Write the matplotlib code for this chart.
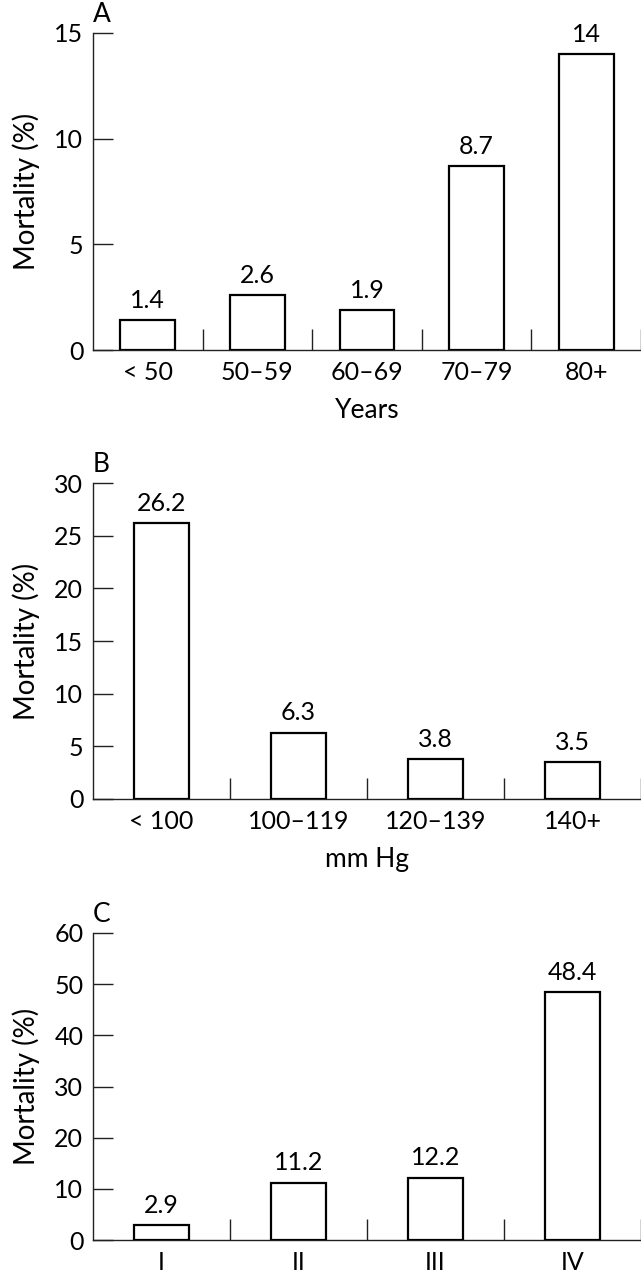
"""Mortality by age, blood pressure and class (three bar panels)."""
import matplotlib
matplotlib.use("Agg")
import matplotlib.pyplot as plt
import numpy as np

plt.rcParams['font.family'] = ['Lato', 'DejaVu Sans']

# Panel A: age groups
age_groups = ['< 50', '50\u201359', '60\u201369', '70\u201379', '80+']
age_mortality = [1.4, 2.6, 1.9, 8.7, 14]
age_labels = ['1.4', '2.6', '1.9', '8.7', '14']

# Panel B: systolic blood pressure
bp_groups = ['< 100', '100\u2013119', '120\u2013139', '140+']
bp_mortality = [26.2, 6.3, 3.8, 3.5]
bp_labels = ['26.2', '6.3', '3.8', '3.5']

# Panel C: class
class_groups = ['I', 'II', 'III', 'IV']
class_mortality = [2.9, 11.2, 12.2, 48.4]
class_labels = ['2.9', '11.2', '12.2', '48.4']

W, H = 641, 1280
fig = plt.figure(figsize=(W / 100, H / 100), dpi=100)

AXIS_COLOR = '#222222'
FS = 18


def panel(rect, letter, cats, values, labels, bar_width, ymax, ystep, xlabel):
    """Draw one bar panel."""
    ax = fig.add_axes(rect)
    n = len(cats)
    x = np.arange(n) + 0.5
    bars = ax.bar(x, values, width=bar_width, color='white',
                  edgecolor='black', linewidth=1.6, zorder=3)
    ax.bar_label(bars, labels=labels, padding=6, fontsize=FS)

    ax.set_xlim(0, n)
    ax.set_ylim(0, ymax)
    ax.set_yticks(np.arange(0, ymax + 1, ystep))

    # separators at category boundaries, labels at centres
    ax.set_xticks(np.arange(1, n + 1))
    ax.set_xticklabels([])
    ax.set_xticks(x, minor=True)
    ax.set_xticklabels(cats, minor=True, fontsize=FS)
    ax.tick_params(axis='x', which='major', direction='in', length=15,
                   width=1.0, color=AXIS_COLOR)
    ax.tick_params(axis='x', which='minor', length=0, pad=8)
    ax.tick_params(axis='y', direction='in', length=14.5, width=1.0,
                   color=AXIS_COLOR, labelsize=FS, pad=7)

    for side in ('top', 'right'):
        ax.spines[side].set_visible(False)
    for side in ('left', 'bottom'):
        ax.spines[side].set_color(AXIS_COLOR)
        ax.spines[side].set_linewidth(1.0)

    ax.set_ylabel('Mortality (%)', fontsize=FS + 2, labelpad=10)
    if xlabel:
        ax.set_xlabel(xlabel, fontsize=FS + 1, labelpad=10)
    # panel letter sits just above the top tick
    ax.annotate(letter, xy=(0, 1), xycoords='axes fraction',
                xytext=(0, 8), textcoords='offset points',
                fontsize=FS + 1, ha='left', va='baseline')
    return ax


left = 93 / W
width = 1 - left
panel([left, 1 - 350 / H, width, 317 / H], 'A', age_groups, age_mortality,
      age_labels, 0.5, 15, 5, 'Years')
panel([left, 1 - 799 / H, width, 316 / H], 'B', bp_groups, bp_mortality,
      bp_labels, 0.4, 30, 5, 'mm Hg')
panel([left, 1 - 1240 / H, width, 307 / H], 'C', class_groups,
      class_mortality, class_labels, 0.4, 60, 10, None)

fig.savefig('out.png', dpi=100)
plt.close(fig)
